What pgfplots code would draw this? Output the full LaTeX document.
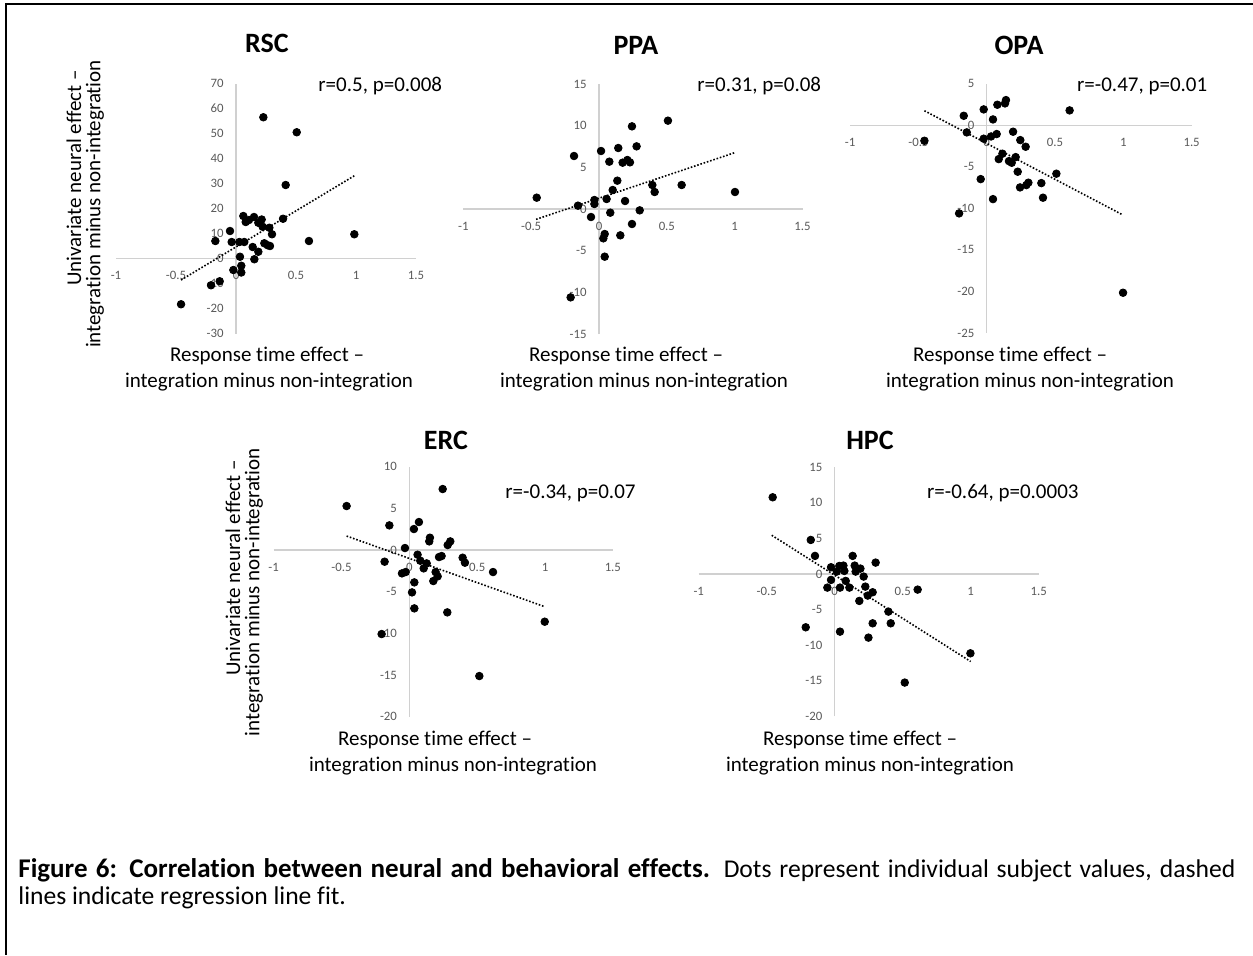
\documentclass[border=0pt]{standalone}
\usepackage{fontspec}
\setmainfont{Carlito}[Ligatures={NoCommon}]
\usepackage{pgfplots}
\pgfplotsset{compat=1.18}
\definecolor{axisgray}{HTML}{D0D0D0}
\definecolor{ticklab}{HTML}{595959}
\pgfplotsset{
  panel/.style={
    axis lines=middle,
    axis line style={draw=axisgray, line width=0.6pt, -},
    enlargelimits=false,
    xmin=-1, xmax=1.5,
    xtick={-1,-0.5,0,0.5,1,1.5},
    xticklabels={-1,-0.5,0,0.5,1,1.5},
    major tick length=0pt,
    tick style={draw=none},
    every tick label/.append style={font=\fontsize{6.4}{7}\selectfont, text=ticklab, inner sep=0pt},
    xticklabel style={anchor=center, yshift=-8.5pt},
    yticklabel style={anchor=east, xshift=-6pt},
    hide obscured x ticks=false,
    hide obscured y ticks=false,
    clip=false,
    anchor=south west,
  },
  dots/.style={only marks, mark=*, mark size=1.9pt, mark options={fill=black, draw=black}, black},
  trend/.style={no marks, black, line width=0.8pt, dash pattern=on 0.8pt off 0.9pt},
}
\tikzset{
  ttl/.style={font=\bfseries\fontsize{14}{16}\selectfont, inner sep=0pt},
  rtxt/.style={anchor=west, font=\fontsize{10.5}{12}\selectfont, inner sep=0pt},
  lab/.style={font=\fontsize{10.5}{12}\selectfont, inner sep=0pt},
}
\begin{document}
\begin{tikzpicture}
\useasboundingbox (0,0) rectangle (626.5pt,-477.5pt);
\draw[line width=1pt] (2.5pt,-2pt) -- (626.5pt,-2pt);
\draw[line width=1pt] (3pt,-1.5pt) -- (3pt,-477.5pt);

% ---------------- RSC
\begin{axis}[panel, x=60pt, y=1.25pt, at={(58pt,-166.75pt)},
  ymin=-30, ymax=70, ytick={-30,-20,-10,0,10,20,30,40,50,60,70},
  yticklabels={-30,-20,-10,0,10,20,30,40,50,60,70}]
\addplot[trend] coordinates {(-0.458,-8.6) (0.986,33.1)};
\addplot[dots] coordinates {
(0.061,17.0) (0.081,14.6) (0.108,15.4) (0.150,16.6) (0.186,14.3) (0.214,15.6)
(0.222,12.7) (0.278,12.3) (0.300,9.7) (0.236,6.1) (0.264,5.3) (0.283,5.0)
(0.139,4.6) (0.186,2.7) (0.153,-0.3) (0.033,0.7) (0.044,-2.9) (0.044,-5.6)
(-0.022,-4.6) (-0.036,6.6) (0.028,6.6) (0.069,6.6) (-0.05,11.0) (-0.172,7.0)
(-0.136,-9.1) (-0.208,-10.7) (-0.458,-18.3) (0.228,56.5) (0.506,50.5)
(0.414,29.4) (0.392,15.9) (0.986,9.7) (0.608,7.0)};
\end{axis}

% ---------------- PPA
\begin{axis}[panel, x=67.85pt, y=4.1667pt, at={(231.65pt,-167pt)},
  ymin=-15, ymax=15, ytick={-15,-10,-5,0,5,10,15},
  yticklabels={-15,-10,-5,0,5,10,15}]
\addplot[trend] coordinates {(-0.464,-1.24) (1.0,6.76)};
\addplot[dots] coordinates {
(-0.459,1.36) (-0.184,6.36) (-0.155,0.4) (-0.059,-0.96) (-0.034,1.08) (-0.034,0.6)
(0.015,6.96) (0.056,1.2) (0.076,5.68) (0.083,-0.44) (0.101,2.28) (0.135,3.4)
(0.142,7.32) (0.174,5.56) (0.209,5.88) (0.228,5.6) (0.243,9.92) (0.192,0.96)
(0.277,7.52) (0.3,-0.16) (0.243,-1.8) (0.157,-3.16) (0.042,-3.0) (0.032,-3.52)
(0.042,-5.72) (-0.209,-10.6) (0.393,2.88) (0.41,2.04) (0.508,10.6) (0.609,2.88)
(1.002,2.04)};
\end{axis}

% ---------------- OPA
\begin{axis}[panel, x=68.3pt, y=4.15pt, at={(425.05pt,-166.45pt)},
  ymin=-25, ymax=5, ytick={-25,-20,-15,-10,-5,0,5},
  yticklabels={-25,-20,-15,-10,-5,0,5}]
\addplot[trend] coordinates {(-0.456,1.77) (0.998,-10.8)};
\addplot[dots] coordinates {
(-0.456,-1.85) (-0.168,1.16) (-0.146,-0.84) (-0.202,-10.6) (-0.044,-6.47)
(-0.022,1.93) (-0.022,-1.6) (0.032,-1.33) (0.046,0.72) (0.046,-8.88) (0.073,-1.04)
(0.078,2.49) (0.141,3.05) (0.134,2.65) (0.115,-3.41) (0.088,-4.06) (0.163,-4.3)
(0.183,-4.5) (0.212,-3.82) (0.193,-0.76) (0.246,-1.77) (0.285,-2.57) (0.227,-5.58)
(0.244,-7.47) (0.29,-7.19) (0.305,-6.9) (0.4,-6.95) (0.412,-8.71) (0.51,-5.82)
(0.607,1.81) (0.998,-20.16)};
\end{axis}

% ---------------- ERC
\begin{axis}[panel, x=67.85pt, y=4.1667pt, at={(136.8pt,-358.35pt)},
  ymin=-20, ymax=10, ytick={-20,-15,-10,-5,0,5,10},
  yticklabels={-20,-15,-10,-5,0,5,10}]
\addplot[trend] coordinates {(-0.462,1.68) (0.998,-6.8)};
\addplot[dots] coordinates {
(-0.462,5.28) (-0.147,2.96) (-0.182,-1.4) (-0.204,-10.08) (-0.032,0.24)
(-0.054,-2.8) (-0.027,-2.64) (0.034,2.52) (0.071,3.36) (0.061,-0.56) (0.081,-1.28)
(0.106,-2.2) (0.128,-1.6) (0.037,-3.88) (0.02,-5.08) (0.037,-7.0) (0.152,1.48)
(0.147,1.04) (0.194,-2.64) (0.209,-3.16) (0.177,-3.72) (0.219,-0.84) (0.238,-0.72)
(0.246,7.32) (0.283,0.6) (0.302,1.04) (0.28,-7.48) (0.393,-0.92) (0.41,-1.52)
(0.617,-2.64) (0.516,-15.12) (0.998,-8.6)};
\end{axis}

% ---------------- HPC
\begin{axis}[panel, x=68pt, y=3.562pt, at={(349.35pt,-358.2pt)},
  ymin=-20, ymax=15, ytick={-20,-15,-10,-5,0,5,10,15},
  yticklabels={-20,-15,-10,-5,0,5,10,15}]
\addplot[trend] coordinates {(-0.463,5.43) (1.0,-12.3)};
\addplot[dots] coordinates {
(-0.456,10.76) (-0.176,4.77) (-0.145,2.53) (-0.213,-7.49) (-0.027,0.94)
(-0.027,-0.84) (-0.054,-1.92) (0.015,0.33) (0.034,1.12) (0.064,1.17) (0.071,0.42)
(0.081,-0.98) (0.039,-1.92) (0.108,-1.92) (0.039,-8.1) (0.132,2.53) (0.147,1.17)
(0.154,0.33) (0.189,0.75) (0.213,-0.37) (0.225,-1.78) (0.243,-3.04) (0.181,-3.79)
(0.279,-2.57) (0.301,1.59) (0.279,-6.93) (0.248,-8.94) (0.395,-5.29) (0.412,-6.93)
(0.61,-2.2) (0.515,-15.25) (0.998,-11.14)};
\end{axis}

% titles
\node[ttl] at (133.5pt,-21.5pt) {RSC};
\node[ttl] at (318pt,-22.5pt) {PPA};
\node[ttl] at (509.5pt,-22.5pt) {OPA};
\node[ttl] at (223pt,-220pt) {ERC};
\node[ttl] at (435pt,-220pt) {HPC};
% r texts
\node[rtxt] at (159pt,-43pt) {r=0.5, p=0.008};
\node[rtxt] at (348.5pt,-43pt) {r=0.31, p=0.08};
\node[rtxt] at (538.35pt,-43.35pt) {r=-0.47, p=0.01};
\node[rtxt] at (252.5pt,-246.5pt) {r=-0.34, p=0.07};
\node[rtxt] at (463.35pt,-246.35pt) {r=-0.64, p=0.0003};
% x labels
\node[lab] at (133.5pt,-178pt) {Response time effect –};
\node[lab] at (134.5pt,-191pt) {integration minus non-integration};
\node[lab] at (313pt,-178pt) {Response time effect –};
\node[lab] at (322pt,-191pt) {integration minus non-integration};
\node[lab] at (505pt,-178pt) {Response time effect –};
\node[lab] at (515pt,-191pt) {integration minus non-integration};
\node[lab] at (217.5pt,-370pt) {Response time effect –};
\node[lab] at (226.5pt,-383pt) {integration minus non-integration};
\node[lab] at (430pt,-370pt) {Response time effect –};
\node[lab] at (435pt,-383pt) {integration minus non-integration};
% y labels
\node[lab, rotate=90] at (37pt,-89pt) {Univariate neural effect –};
\node[lab, rotate=90] at (47.5pt,-102pt) {integration minus non-integration};
\node[lab, rotate=90] at (116.5pt,-284pt) {Univariate neural effect –};
\node[lab, rotate=90] at (127pt,-296pt) {integration minus non-integration};
% caption
\node[anchor=base west, inner sep=0pt, font=\fontsize{12.8}{14}\selectfont] at (9pt,-438.5pt)
  {\makebox[608.5pt][s]{{\fontsize{13.5}{14}\selectfont\bfseries Figure 6: Correlation between neural and behavioral effects.} Dots represent individual subject values, dashed}};
\node[anchor=base west, inner sep=0pt, font=\fontsize{12.8}{14}\selectfont] at (9pt,-452pt)
  {lines indicate regression line fit.};
\end{tikzpicture}
\end{document}
